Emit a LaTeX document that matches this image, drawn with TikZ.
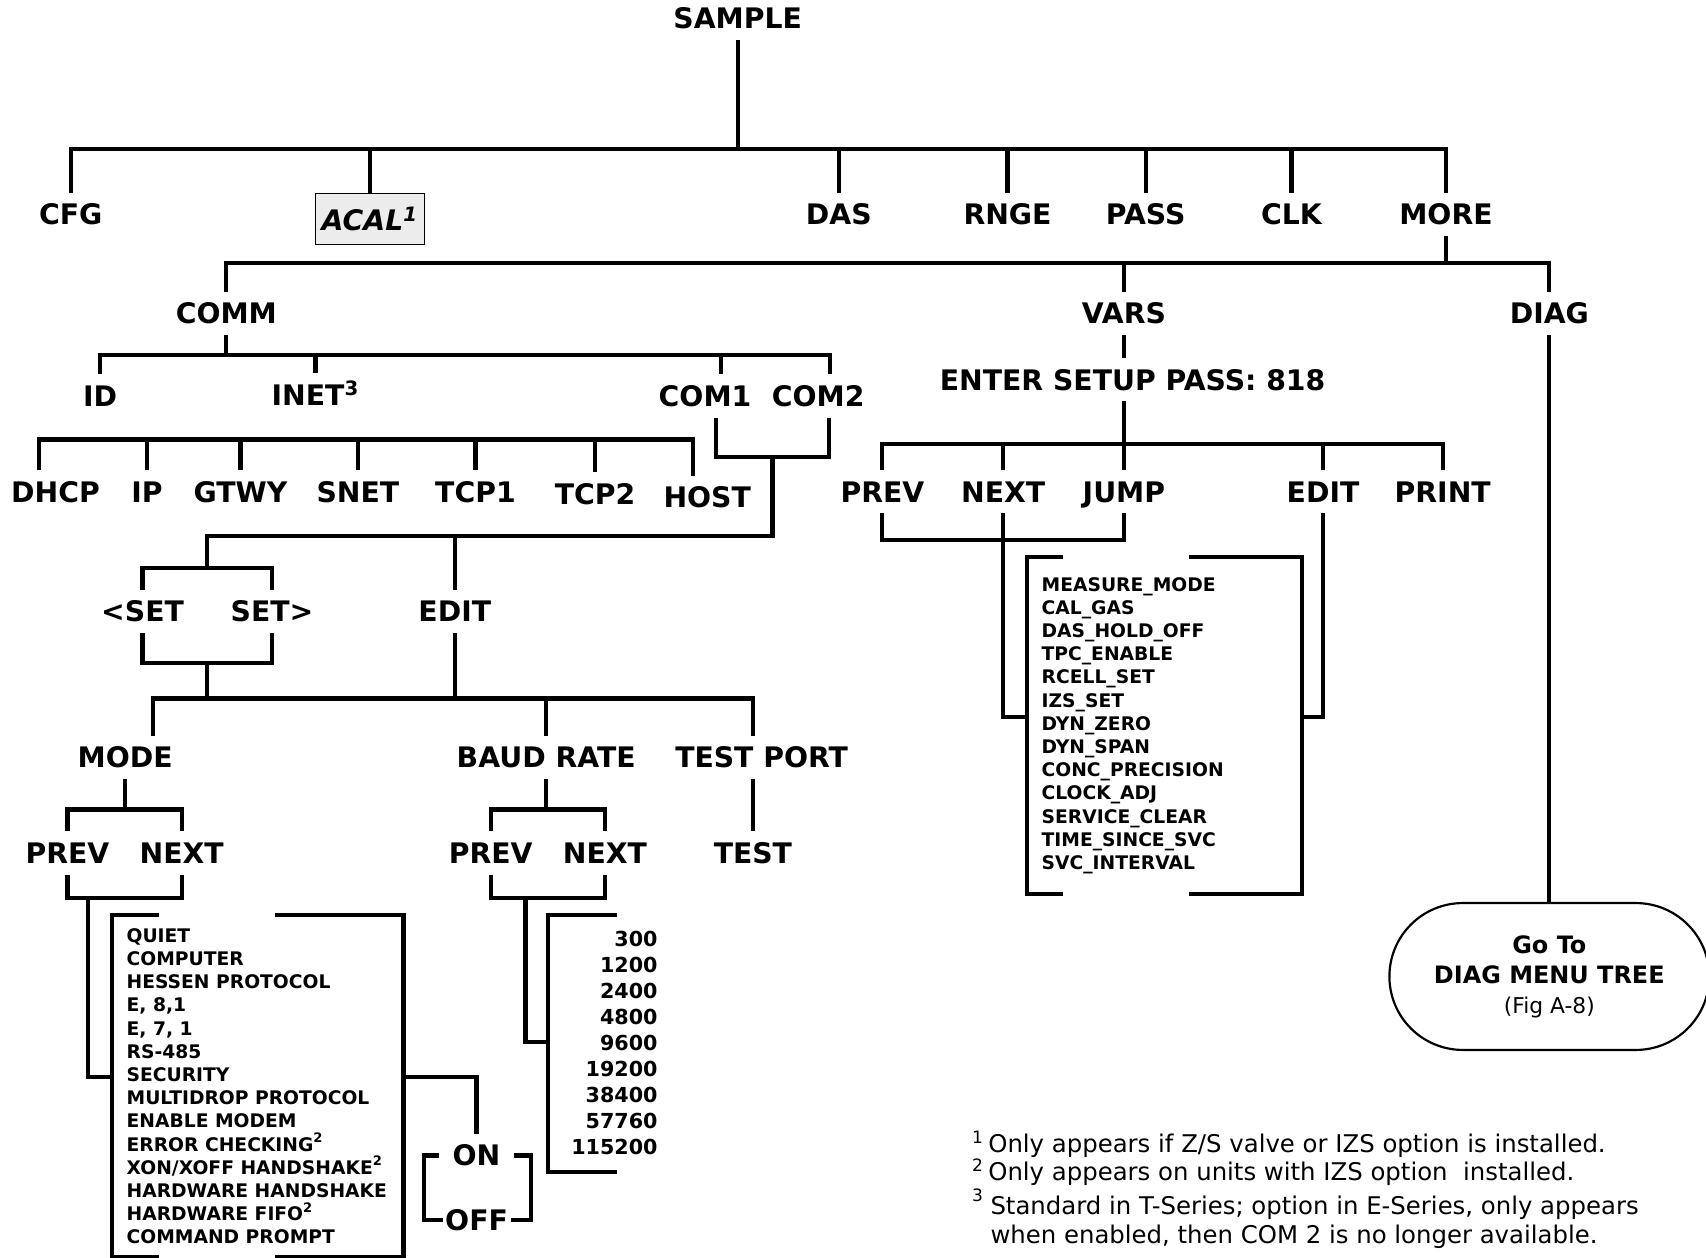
\documentclass[tikz,border=0pt]{standalone}
\usepackage{fontspec}
\setmainfont{DejaVu Sans}
\usetikzlibrary{shapes.misc,calc}
\begin{document}
\begin{tikzpicture}[x=0.5pt,y=-0.5pt,
  lbl/.style={font=\fontsize{13}{15}\selectfont\bfseries, text height=9.5pt, text depth=0pt, inner sep=5pt},
  ln/.style={line width=1.9pt},
  lst/.style={font=\fontsize{8.6}{10.65}\selectfont\bfseries, align=left, inner sep=0pt},
  frame/.style={inner sep=0pt, anchor=north west},
  fnote/.style={anchor=base west, inner sep=0pt, font=\fontsize{11.2}{13}\selectfont},
]
\fill[white] (0,0) rectangle (1568,1156);
\useasboundingbox (0,0) rectangle (1568,1156);

% ---------- top level ----------
\node[lbl] (sample) at (678,17) {SAMPLE};
\node[lbl] (cfg) at (65,197) {CFG};
\node[draw, line width=0.6pt, fill=gray!15, minimum width=50pt, minimum height=23.5pt, inner sep=0pt,
      font=\fontsize{13}{15}\selectfont\bfseries\itshape] (acal) at (340,201.5) {ACAL\textsuperscript{1}};
\node[lbl] (das) at (771,197) {DAS};
\node[lbl] (rnge) at (926,197) {RNGE};
\node[lbl] (pass) at (1053,197) {PASS};
\node[lbl] (clk) at (1187,197) {CLK};
\node[lbl] (more) at (1329,197) {MORE};
\coordinate (b1) at (678,137);
\draw[ln] (sample.south) -- (b1);
\draw[ln] (cfg.north) -- (cfg.north |- b1) -- (more.north |- b1) -- (more.north);
\foreach \n in {acal,das,rnge,pass,clk} \draw[ln] (\n.north |- b1) -- (\n.north);

% ---------- second level ----------
\node[lbl] (comm) at (208,288) {COMM};
\node[lbl] (vars) at (1033,288) {VARS};
\node[lbl] (diag) at (1424,288) {DIAG};
\coordinate (b2) at (1330,242);
\draw[ln] (more.south) -- (more.south |- b2);
\draw[ln] (comm.north) -- (comm.north |- b2) -- (diag.north |- b2) -- (diag.north);
\draw[ln] (vars.north |- b2) -- (vars.north);

% ---------- COMM ----------
\node[lbl] (id) at (92,364) {ID};
\node[lbl] (inet) at (290,363) {INET\textsuperscript{3}};
\node[lbl] (com1) at (648,364) {COM1};
\node[lbl] (com2) at (752,364) {COM2};
\coordinate (b3) at (209,326);
\coordinate (c1t) at ([xshift=7.5pt]com1.north);
\coordinate (c2t) at ([xshift=5.5pt]com2.north);
\draw[ln] (comm.south) -- (comm.south |- b3);
\draw[ln] (id.north) -- (id.north |- b3) -- (c2t |- b3) -- (c2t);
\draw[ln] (inet.north |- b3) -- (inet.north);
\draw[ln] (c1t |- b3) -- (c1t);

% INET children
\node[lbl] (dhcp) at (51,452) {DHCP};
\node[lbl] (ip) at (135,452) {IP};
\node[lbl] (gtwy) at (221,452) {GTWY};
\node[lbl] (snet) at (329,452) {SNET};
\node[lbl] (tcp1) at (437,452) {TCP1};
\node[lbl] (tcp2) at (547,454) {TCP2};
\node[lbl] (host) at (650,457) {HOST};
\coordinate (b5) at (300,404);
\coordinate (dh) at ([xshift=-7.5pt]dhcp.north);
\coordinate (ho) at ([xshift=-6.5pt]host.north);
\draw[ln] (dh) -- (dh |- b5) -- (ho |- b5) -- (ho);
\foreach \n in {ip,gtwy,snet,tcp1,tcp2} \draw[ln] (\n.north |- b5) -- (\n.north);

% COM1/COM2 bracket
\coordinate (c1b) at ([xshift=5pt]com1.south);
\coordinate (c2b) at ([xshift=5pt]com2.south);
\coordinate (cb) at (710,420);
\coordinate (b4) at (710,493);
\draw[ln] (c1b) -- (c1b |- cb) -- (c2b |- cb) -- (c2b);

\node[lbl] (setl) at (131,562) {<SET};
\node[lbl] (setr) at (250,562) {SET>};
\node[lbl] (edit) at (418,562) {EDIT};
\coordinate (st) at (190,522);
\draw[ln] (cb) -- (b4) -- (st |- b4) -- (st);
\draw[ln] (setl.north) -- (setl.north |- st) -- (setr.north |- st) -- (setr.north);
\draw[ln] (edit.north |- b4) -- (edit.north);
\coordinate (sb) at (190,609);
\coordinate (b6) at (190,642);
\draw[ln] (setl.south) -- (setl.south |- sb) -- (setr.south |- sb) -- (setr.south);
\draw[ln] (sb) -- (b6);
\draw[ln] (edit.south) -- (edit.south |- b6);

\node[lbl] (mode) at (115,696) {MODE};
\node[lbl] (baud) at (502,696) {BAUD RATE};
\node[lbl] (tport) at (700,696) {TEST PORT};
\coordinate (mt) at ([xshift=13pt]mode.north);
\coordinate (tt) at ([xshift=-4pt]tport.north);
\draw[ln] (mt) -- (mt |- b6) -- (tt |- b6) -- (tt);
\draw[ln] (baud.north |- b6) -- (baud.north);

% MODE
\node[lbl] (prev1) at (62,784) {PREV};
\node[lbl] (next1) at (167,784) {NEXT};
\coordinate (m1) at (115,744);
\coordinate (m2) at (81,825);
\coordinate (m3) at (81,990);
\draw[ln] (mode.south) -- (mode.south |- m1);
\draw[ln] (prev1.north) -- (prev1.north |- m1) -- (next1.north |- m1) -- (next1.north);
\draw[ln] (prev1.south) -- (prev1.south |- m2) -- (next1.south |- m2) -- (next1.south);
\node[frame, minimum width=133.5pt, minimum height=157pt] (mlbox) at (103,841) {};
\node[lst, anchor=west] (mltext) at ([xshift=6.5pt]mlbox.west) {QUIET\\COMPUTER\\HESSEN PROTOCOL\\E, 8,1\\E, 7, 1\\RS-485\\SECURITY\\MULTIDROP PROTOCOL\\ENABLE MODEM\\ERROR CHECKING\textsuperscript{2}\\XON/XOFF HANDSHAKE\textsuperscript{2}\\HARDWARE HANDSHAKE\\HARDWARE FIFO\textsuperscript{2}\\COMMAND PROMPT};
\draw[ln] ([xshift=21.5pt]mlbox.north west) -- (mlbox.north west) -- (mlbox.south west) -- ([xshift=21.5pt]mlbox.south west);
\draw[ln] ([xshift=-59pt]mlbox.north east) -- (mlbox.north east) -- (mlbox.south east) -- ([xshift=-59pt]mlbox.south east);
\draw[ln] (m2) -- (m3) -- (m3 -| mlbox.west);

\node[lbl, inner xsep=1pt] (on) at (438,1062) {ON};
\node[lbl, inner xsep=1pt] (off) at (438,1121) {OFF};
\draw[ln] (mlbox.east |- m3) -- (on.north |- m3) -- (on.north);
\draw[ln] ([xshift=-5pt]on.west) -- ++(-7pt,0) |- (off.west);
\draw[ln] ([xshift=5pt]on.east) -- ++(8pt,0) |- (off.east);

% BAUD RATE
\node[lbl] (prev2) at (451,784) {PREV};
\node[lbl] (next2) at (556,784) {NEXT};
\coordinate (bd1) at (503,744);
\coordinate (bd2) at (483,825);
\coordinate (bd3) at (483,958);
\draw[ln] (baud.south) -- (baud.south |- bd1);
\draw[ln] (prev2.north) -- (prev2.north |- bd1) -- (next2.north |- bd1) -- (next2.north);
\draw[ln] (prev2.south) -- (prev2.south |- bd2) -- (next2.south |- bd2) -- (next2.south);
\node[frame, minimum width=50pt, minimum height=117.5pt] (blbox) at (504,841) {};
\node[font=\fontsize{9.5}{11.95}\selectfont\bfseries, align=right, inner sep=0pt, anchor=east] (bltext) at (blbox.east) {300\\1200\\2400\\4800\\9600\\19200\\38400\\57760\\115200};
\draw[ln] ([xshift=31.5pt]blbox.north west) -- (blbox.north west) -- (blbox.south west) -- ([xshift=31.5pt]blbox.south west);
\draw[ln] (bd2) -- (bd3) -- (bd3 -| blbox.west);

% TEST PORT
\node[lbl] (test) at (692,784) {TEST};
\coordinate (ts) at ([xshift=-4pt]tport.south);
\draw[ln] (ts) -- (ts |- test.north);

% ---------- VARS ----------
\node[lbl] (enter) at (1041,349) {ENTER SETUP PASS: 818};
\coordinate (b7) at (1033,408);
\draw[ln] (vars.south) -- (vars.south |- enter.north);
\draw[ln] (vars.south |- enter.south) -- (b7);
\node[lbl] (prev3) at (811,452) {PREV};
\node[lbl] (next3) at (922,452) {NEXT};
\node[lbl] (jump) at (1033,452) {JUMP};
\node[lbl] (edit2) at (1216,452) {EDIT};
\node[lbl] (print) at (1326,452) {PRINT};
\draw[ln] (prev3.north) -- (prev3.north |- b7) -- (print.north |- b7) -- (print.north);
\foreach \n in {next3,jump,edit2} \draw[ln] (\n.north |- b7) -- (\n.north);
\coordinate (v1) at (925,496);
\coordinate (v2) at (925,659);
\draw[ln] (prev3.south) -- (prev3.south |- v1) -- (jump.south |- v1) -- (jump.south);
\node[frame, minimum width=126pt, minimum height=154.5pt] (vlbox) at (944,512) {};
\node[lst, anchor=west] (vltext) at ([xshift=6.5pt]vlbox.west) {MEASURE\_MODE\\CAL\_GAS\\DAS\_HOLD\_OFF\\TPC\_ENABLE\\RCELL\_SET\\IZS\_SET\\DYN\_ZERO\\DYN\_SPAN\\CONC\_PRECISION\\CLOCK\_ADJ\\SERVICE\_CLEAR\\TIME\_SINCE\_SVC\\SVC\_INTERVAL};
\draw[ln] ([xshift=16.5pt]vlbox.north west) -- (vlbox.north west) -- (vlbox.south west) -- ([xshift=16.5pt]vlbox.south west);
\draw[ln] ([xshift=-52pt]vlbox.north east) -- (vlbox.north east) -- (vlbox.south east) -- ([xshift=-52pt]vlbox.south east);
\draw[ln] (next3.south) -- (next3.south |- v2) -- (v2 -| vlbox.west);
\draw[ln] (edit2.south) -- (edit2.south |- v2) -- (v2 -| vlbox.east);

% ---------- DIAG ----------
\node[draw, rounded rectangle, line width=1pt, minimum width=147pt, minimum height=67.5pt, inner sep=0pt,
      align=center, font=\fontsize{11}{13.8}\selectfont\bfseries] (goto) at (1424,897.5)
      {Go To\\DIAG MENU TREE\\{\mdseries\fontsize{10}{13.8}\selectfont (Fig A-8)}};
\draw[ln] (diag.south) -- (goto.north);

% ---------- footnotes ----------
\node[fnote] (fn1) at (893,1059) {\textsuperscript{1}\kern2pt Only appears if Z/S valve or IZS option is installed.};
\node[fnote] (fn2) at (893,1085) {\textsuperscript{2}\kern2pt Only appears on units with IZS option\ \ installed.};
\node[fnote] (fn3) at (893,1116) {\raisebox{2pt}{\textsuperscript{3}}\kern3pt Standard in T-Series; option in E-Series, only appears};
\node[fnote] (fn4) at (910,1143) {when enabled, then COM 2 is no longer available.};
\end{tikzpicture}
\end{document}
